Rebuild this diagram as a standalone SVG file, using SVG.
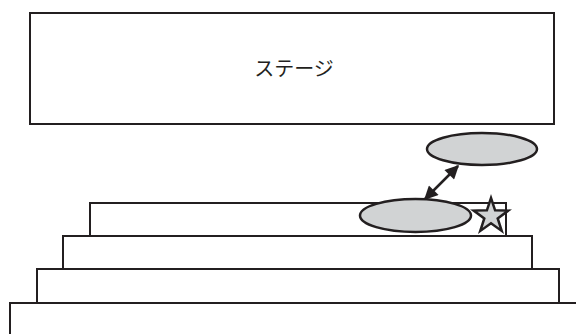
<svg xmlns="http://www.w3.org/2000/svg" width="576" height="334" viewBox="0 0 576 334">
<style>
.box{fill:#ffffff;stroke:#231f20;stroke-width:2}
.shape{fill:#d1d3d4;stroke:#231f20;stroke-width:2.5}
.lbl{font-family:"Noto Sans CJK JP","Liberation Serif",serif;font-size:20px;fill:#231f20}
.conn{stroke:#231f20;stroke-width:2.5;fill:none}
</style>
<defs>
<marker id="ah" viewBox="0 0 10 10" refX="9" refY="5" markerWidth="6" markerHeight="5.5" orient="auto-start-reverse" markerUnits="strokeWidth">
<path d="M0,0 L10,5 L0,10 Z" fill="#231f20"/>
</marker>
</defs>
<g id="stage">
<rect class="box" x="30" y="13" width="524" height="111"/>
<text class="lbl" x="294" y="76" text-anchor="middle">ステージ</text>
</g>
<g id="tier4"><rect class="box" x="10" y="303" width="570" height="40"/></g>
<g id="tier3"><rect class="box" x="37" y="269" width="522" height="34"/></g>
<g id="tier2"><rect class="box" x="63" y="236" width="469" height="33"/></g>
<g id="tier1"><rect class="box" x="90" y="203" width="416" height="33"/></g>
<g id="ellipse-upper"><ellipse class="shape" cx="482" cy="149" rx="55" ry="16"/></g>
<g id="ellipse-lower"><ellipse class="shape" cx="415.5" cy="215.5" rx="55.5" ry="16.5"/></g>
<g id="star"><polygon class="shape" points="491,198 495.1,210.3 508.3,210.6 497.7,218.4 501.7,230.9 491,223.3 480.3,230.9 484.3,218.4 473.7,210.6 486.9,210.3"/></g>
<g id="connectors">
<line class="conn" x1="425" y1="199" x2="458" y2="166" marker-start="url(#ah)" marker-end="url(#ah)"/>
</g>
</svg>
